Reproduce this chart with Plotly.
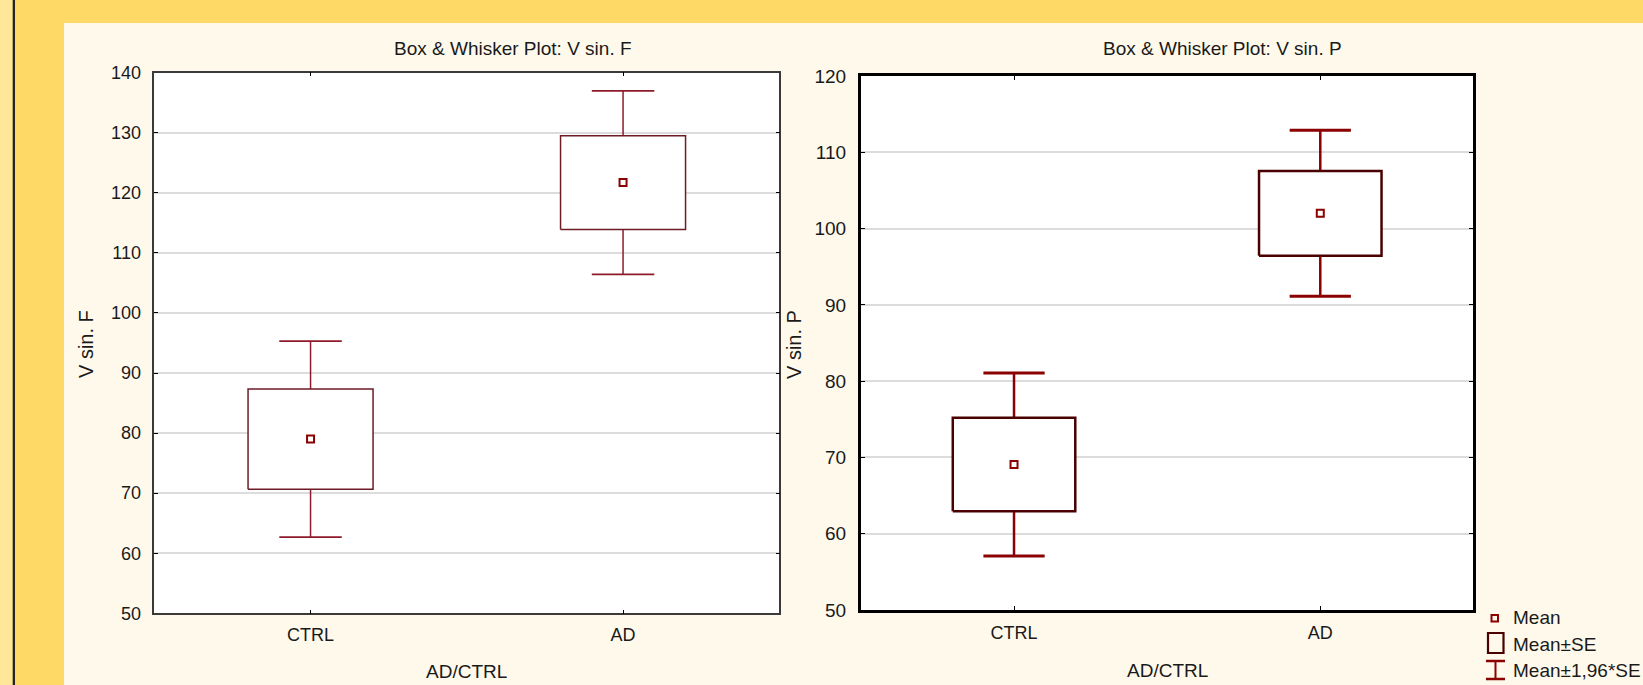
import plotly.graph_objects as go

# ---------------- data ----------------
categories = ["CTRL", "AD"]
vsinF_mean = [79.0, 121.7]
vsinF_se = [8.33, 7.79]
vsinP_mean = [69.07, 102.0]
vsinP_se = [6.12, 5.55]
z_factor = 1.96

left_title = "Box & Whisker Plot: V sin. F"
right_title = "Box & Whisker Plot: V sin. P"
left_ytitle = "V sin. F"
right_ytitle = "V sin. P"
xtitle = "AD/CTRL"
legend_labels = ["Mean", "Mean±SE", "Mean±1,96*SE"]
left_yticks = [50, 60, 70, 80, 90, 100, 110, 120, 130, 140]
right_yticks = [50, 60, 70, 80, 90, 100, 110, 120]

W, H = 1643, 685
FONT = "Liberation Sans, Arial, sans-serif"
CREAM = "#FFF9EC"
GOLD = "#FFD966"
PALE = "#FFE699"


def px(x):
    return x / W


def py(y):
    return 1 - y / H


fig = go.Figure()


def add_panel(means, ses, xa, ya, box_col, wh_col, box_w, wh_w, cap_w, mk):
    idx = list(range(len(means)))
    # whisker stems and caps
    sx, sy, cx, cy = [], [], [], []
    for i, m, s in zip(idx, means, ses):
        lo, hi = m - z_factor * s, m + z_factor * s
        sx += [i, i, None, i, i, None]
        sy += [m + s, hi, None, m - s, lo, None]
        cx += [i - 0.1, i + 0.1, None, i - 0.1, i + 0.1, None]
        cy += [hi, hi, None, lo, lo, None]
    fig.add_trace(go.Scatter(x=sx, y=sy, mode="lines", xaxis=xa, yaxis=ya,
                             line=dict(color=wh_col, width=wh_w), showlegend=False,
                             hoverinfo="skip"))
    fig.add_trace(go.Scatter(x=cx, y=cy, mode="lines", xaxis=xa, yaxis=ya,
                             line=dict(color=wh_col, width=cap_w), showlegend=False,
                             hoverinfo="skip"))
    # boxes (mean ± SE)
    for i, m, s in zip(idx, means, ses):
        fig.add_trace(go.Scatter(
            x=[i - 0.2, i + 0.2, i + 0.2, i - 0.2, i - 0.2],
            y=[m - s, m - s, m + s, m + s, m - s],
            mode="lines", fill="toself", fillcolor="white",
            line=dict(color=box_col, width=box_w), xaxis=xa, yaxis=ya,
            showlegend=False, hoverinfo="skip"))
    # means
    fig.add_trace(go.Scatter(
        x=idx, y=means, mode="markers", xaxis=xa, yaxis=ya,
        marker=dict(symbol="square-open", size=mk, color="#8B0000",
                    line=dict(color="#8B0000", width=2)),
        showlegend=False))


add_panel(vsinF_mean, vsinF_se, "x", "y", "#6E1B26", "#8E1B2B", 1.5, 1.5, 1.8, 7)
add_panel(vsinP_mean, vsinP_se, "x2", "y2", "#4A0000", "#8B0000", 2.5, 2.5, 3, 7)

tickfont = dict(family=FONT, size=18, color="#1a1a1a")
tickfont2 = dict(family=FONT, size=19, color="#1a1a1a")

xcommon = dict(range=[-0.5, 1.5], tickvals=[0, 1], ticktext=categories,
               showgrid=False, zeroline=False, showline=True, mirror="ticks",
               ticks="inside", ticklen=4, tickcolor="#000",
               ticklabelstandoff=4, automargin=False)
ycommon = dict(showgrid=True, gridcolor="#DCDCDC", gridwidth=1.5, zeroline=False,
               showline=True, mirror="ticks", ticks="inside", ticklen=4,
               tickcolor="#000", ticklabelstandoff=8, automargin=False)

fig.update_layout(
    width=W, height=H, autosize=False,
    margin=dict(l=0, r=0, t=0, b=0, pad=0, autoexpand=False),
    paper_bgcolor=CREAM, plot_bgcolor="white",
    showlegend=False,
    xaxis=dict(domain=[px(154.3), px(779.3)], anchor="y", tickfont=tickfont,
               linecolor="#3a3a3a", linewidth=1.5, **xcommon),
    yaxis=dict(domain=[py(613.3), py(72.7)], anchor="x", range=[50, 140], tickfont=tickfont,
               tickvals=left_yticks, linecolor="#3a3a3a", linewidth=1.5, **ycommon),
    xaxis2=dict(domain=[px(860.9), px(1473.4)], anchor="y2", tickfont=tickfont,
                linecolor="#000", linewidth=3, **xcommon),
    yaxis2=dict(domain=[py(610), py(76)], anchor="x2", range=[50, 120], tickfont=tickfont2,
                tickvals=right_yticks, linecolor="#000", linewidth=3, **ycommon),
)

# background frame
shapes = [
    dict(type="rect", xref="paper", yref="paper", x0=0, x1=1, y0=py(23), y1=1,
         fillcolor=GOLD, line=dict(width=0), layer="below"),
    dict(type="rect", xref="paper", yref="paper", x0=0, x1=px(64), y0=0, y1=1,
         fillcolor=GOLD, line=dict(width=0), layer="below"),
    dict(type="rect", xref="paper", yref="paper", x0=0, x1=px(12.7), y0=0, y1=1,
         fillcolor=PALE, line=dict(width=0), layer="below"),
    dict(type="rect", xref="paper", yref="paper", x0=px(12.7), x1=px(15), y0=0, y1=1,
         fillcolor="#222222", line=dict(width=0), layer="below"),
]

# legend icons
shapes += [
    dict(type="rect", xref="paper", yref="paper", x0=px(1491.5), x1=px(1498), y0=py(621.5), y1=py(615),
         line=dict(color="#8B0000", width=2), fillcolor="rgba(0,0,0,0)"),
    dict(type="rect", xref="paper", yref="paper", x0=px(1488), x1=px(1503.5), y0=py(653), y1=py(633),
         line=dict(color="#4A0000", width=2.2), fillcolor="rgba(0,0,0,0)"),
    dict(type="line", xref="paper", yref="paper", x0=px(1495.5), x1=px(1495.5), y0=py(679), y1=py(661),
         line=dict(color="#8B0000", width=2)),
    dict(type="line", xref="paper", yref="paper", x0=px(1486), x1=px(1505), y0=py(661), y1=py(661),
         line=dict(color="#8B0000", width=2.5)),
    dict(type="line", xref="paper", yref="paper", x0=px(1486), x1=px(1505), y0=py(679), y1=py(679),
         line=dict(color="#8B0000", width=2.5)),
]
fig.update_layout(shapes=shapes)

txt = dict(family=FONT, size=19, color="#1a1a1a")
ytxt = dict(family=FONT, size=20, color="#1a1a1a")
ttl = dict(family=FONT, size=19, color="#1a1a1a")
ann = [
    dict(text=left_title, x=px(513), y=py(48), font=ttl),
    dict(text=right_title, x=px(1222), y=py(49), font=ttl),
    dict(text=left_ytitle, x=px(86), y=py(344), textangle=-90, font=ytxt),
    dict(text=right_ytitle, x=px(794), y=py(345), textangle=-90, font=ytxt),
    dict(text=xtitle, x=px(466.8), y=py(671.5), font=txt),
    dict(text=xtitle, x=px(1167), y=py(670.3), font=txt),
]
for a in ann:
    a.update(xref="paper", yref="paper", showarrow=False, xanchor="center", yanchor="middle")

for lbl, yc in zip(legend_labels, [617.7, 644, 670]):
    ann.append(dict(text=lbl, x=px(1511), y=py(yc), xref="paper", yref="paper",
                    showarrow=False, xanchor="left", yanchor="middle", font=txt))
fig.update_layout(annotations=ann)

fig.write_html("out.html", config={"displayModeBar": False},
               post_script="document.body.style.margin='0';document.body.style.overflow='hidden';")
